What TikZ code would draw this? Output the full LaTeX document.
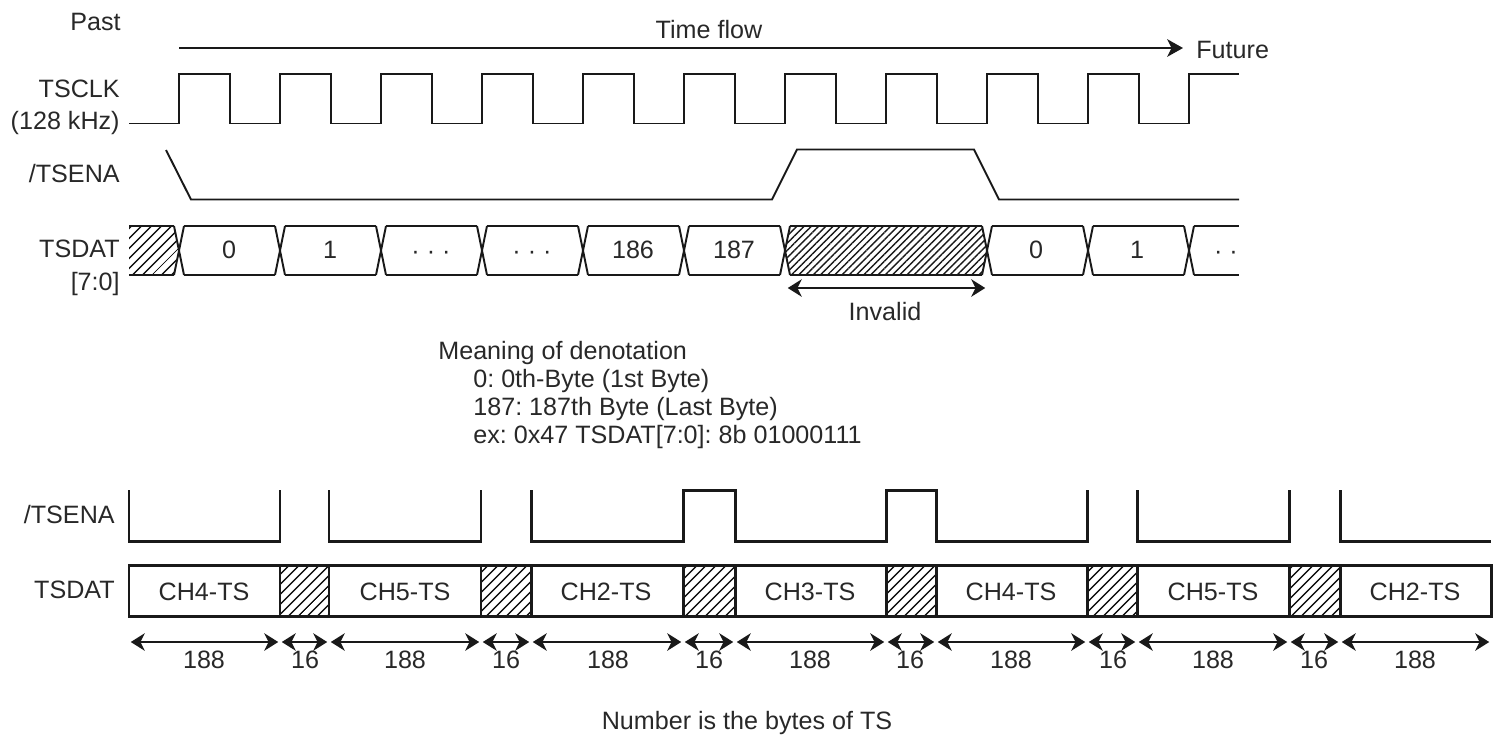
\documentclass[tikz,border=0pt]{standalone}
\usepackage{fontspec}
\setmainfont{Liberation Sans}
\usepackage{xcolor}
\usepackage{tikz}
\usetikzlibrary{arrows.meta, patterns.meta}
\definecolor{mydark}{RGB}{25,25,25}
\definecolor{mytext}{RGB}{40,40,40}
\frenchspacing
\tikzset{
  wave/.style={line width=1.1pt, color=mydark, line join=miter},
  thickwave/.style={line width=1.7pt, color=mydark, line join=miter},
  flowarrow/.style={-{Stealth[length=9pt,width=10pt,inset=2.5pt]}, line width=1.3pt, color=mydark},
  spanarrow/.style={{Stealth[length=8pt,width=10pt,inset=2.5pt]}-{Stealth[length=8pt,width=10pt,inset=2.5pt]}, line width=1pt, color=mydark, shorten >=1pt, shorten <=1pt},
  hatch/.style={pattern={Lines[angle=45,distance=4pt,line width=0.9pt]}, pattern color=mydark},
  finehatch/.style={pattern={Lines[angle=45,distance=2.9pt,line width=0.8pt]}, pattern color=mydark},
  siglabel/.style={anchor=east, font=\fontsize{14.3}{16}\selectfont, text=mytext, inner sep=0pt},
  txt/.style={font=\fontsize{14.3}{16}\selectfont, text=mytext, inner sep=0pt}
}
\begin{document}
\begin{tikzpicture}[x=0.02cm, y=-0.02cm]
  \useasboundingbox (0,0) rectangle (1494,735);

  % Time flow
  \coordinate (flowstart) at (179,48);
  \node[txt, anchor=west] (future) at (1196,50) {Future};
  \coordinate (flowend) at (1183,48);
  \draw[flowarrow] (flowstart) -- (flowend);
  \node[siglabel] (past) at (121,22) {Past};
  \node[txt] (timeflow) at (709,30) {Time flow};

  % TSCLK
  \node[siglabel] (clklabel) at (120,89) {TSCLK};
  \node[siglabel] (clkrate) at (120,123) {(128 kHz)};
  \draw[wave] (129,123.5) -- (179,123.5);
  \foreach \x in {179,280,...,1088} {
    \draw[wave] (\x,123.5) -- (\x,74) -- (\x+51,74) -- (\x+51,123.5) -- (\x+101,123.5);
  }
  \draw[wave] (1189,123.5) -- (1189,74) -- (1239,74);

  % /TSENA upper
  \node[siglabel] (enalabel) at (120,174) {/TSENA};
  \draw[wave] (166,150) -- (191,199.5) -- (772,199.5) -- (797,149.5)
    -- (974,149.5) -- (999,199.5) -- (1239,199.5);

  % TSDAT upper
  \node[siglabel] (datlabel) at (120,249) {TSDAT};
  \node[siglabel] (datbits) at (120,284) {[7:0]};
  \fill[hatch] (129,226) -- (174,226) -- (179,250) -- (174,275) -- (129,275) -- cycle;
  \fill[finehatch] (790,226) -- (982,226) -- (987,250) -- (982,275) -- (790,275) -- (785,250) -- cycle;
  \draw[wave] (129,226) -- (174,226) (129,275) -- (174,275);
  \foreach \x in {179,280,381,482,583,684,785,987,1088,1189} {
    \draw[wave] (\x-5,226) -- (\x+5,275) (\x+5,226) -- (\x-5,275);
  }
  \foreach \x/\y in {184/275,285/376,386/477,487/578,588/679,689/780,790/982,992/1083,1093/1184,1194/1239} {
    \draw[wave] (\x,226) -- (\y,226) (\x,275) -- (\y,275);
  }
  \foreach \x/\t in {229/0,330/1,633/186,734/187,1036/0,1137/1} {
    \node[txt] at (\x,250) {\t};
  }
  \node[txt] (dotsa) at (431,255) {· · ·};
  \node[txt] (dotsb) at (532,255) {· · ·};
  \node[txt] (lastdots) at (1226,255) {· ·};

  % Invalid span
  \coordinate (invleft) at (786,288);
  \coordinate (invright) at (987,288);
  \draw[spanarrow] (invleft) -- (invright);
  \node[txt] (invalid) at (885,312) {Invalid};

  % Denotation
  \node[txt, anchor=west] (meaning) at (438,353) {Meaning of denotation};
  \node[txt, anchor=west] (mean0) at (473,381) {0: 0th-Byte (1st Byte)};
  \node[txt, anchor=west] (mean1) at (473,409) {187: 187th Byte (Last Byte)};
  \node[txt, anchor=west] (mean2) at (473,437) {ex: 0x47 TSDAT[7:0]: 8b 01000111};

  % /TSENA lower
  \node[siglabel] (enalower) at (115,515) {/TSENA};
  \foreach \a/\b in {129/280,329/481,1137/1289} {
    \draw[thickwave] (\a,490) -- (\a,541) -- (\b,541) -- (\b,490);
  }
  \draw[thickwave] (531,490) -- (531,541) -- (683,541) -- (683,490) -- (735,490) -- (735,541)
    -- (886,541) -- (886,490) -- (936,490) -- (936,541) -- (1087,541) -- (1087,490);
  \draw[thickwave] (1340,490) -- (1340,541) -- (1491,541);

  % TSDAT lower
  \node[siglabel] (datlower) at (115,590) {TSDAT};
  \foreach \a/\b in {280/329,481/531,683/735,886/936,1087/1137,1289/1340} {
    \fill[hatch] (\a,565) rectangle (\b,616);
    \draw[thickwave] (\a,565) -- (\a,616) (\b,565) -- (\b,616);
  }
  \draw[thickwave] (129,565) rectangle (1491,616);
  \foreach \x/\t in {204/CH4-TS,405/CH5-TS,606/CH2-TS,810/CH3-TS,1011/CH4-TS,1213/CH5-TS,1415/CH2-TS} {
    \node[txt] at (\x,592) {\t};
  }

  % Byte counts
  \foreach \i/\x in {0/129,1/280,2/329,3/481,4/531,5/683,6/735,7/886,8/936,9/1087,10/1137,11/1289,12/1340,13/1491} {
    \coordinate (tick\i) at (\x,642);
  }
  \foreach \i/\j in {0/1,1/2,2/3,3/4,4/5,5/6,6/7,7/8,8/9,9/10,10/11,11/12,12/13} {
    \draw[spanarrow] (tick\i) -- (tick\j);
  }
  \foreach \x/\t in {204/188,305/16,405/188,506/16,608/188,709/16,810/188,910/16,1011/188,1113/16,1213/188,1314/16,1415/188} {
    \node[txt] at (\x,660) {\t};
  }
  \node[txt] (bytesnote) at (747,723) {Number is the bytes of TS};
\end{tikzpicture}
\end{document}
